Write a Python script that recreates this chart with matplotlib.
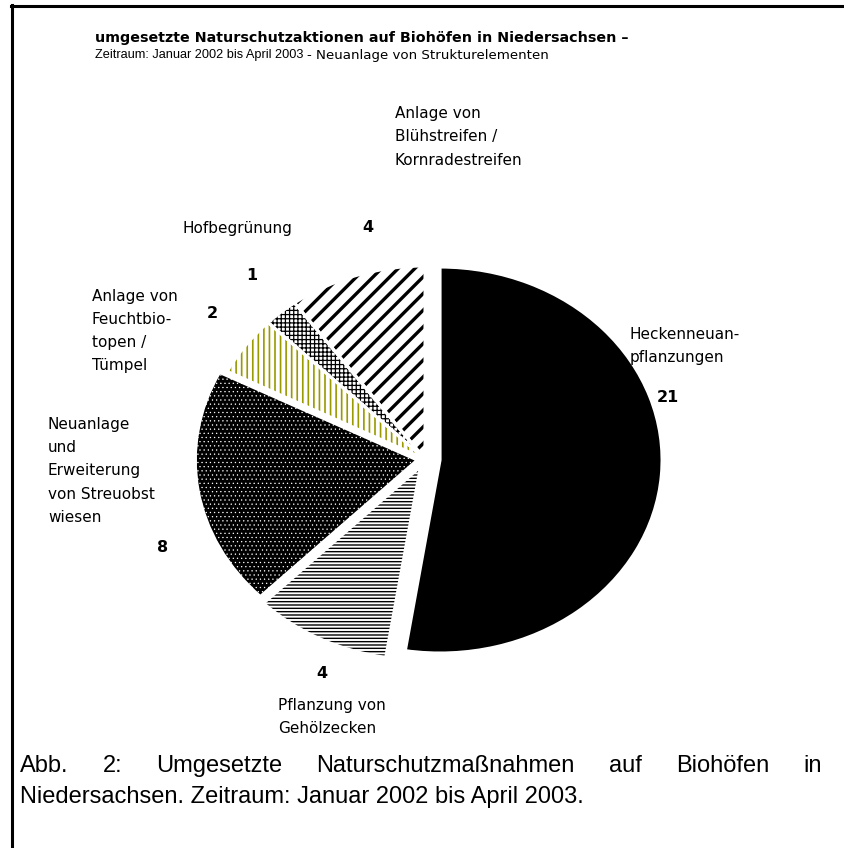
import matplotlib
matplotlib.use("Agg")
import matplotlib.pyplot as plt
from matplotlib.lines import Line2D

# Daten
kategorien = ["Heckenneuanpflanzungen", "Pflanzung von Gehölzecken",
              "Neuanlage und Erweiterung von Streuobstwiesen",
              "Anlage von Feuchtbiotopen / Tümpel", "Hofbegrünung",
              "Anlage von Blühstreifen / Kornradestreifen"]
werte = [21, 4, 8, 2, 1, 4]

# Stil je Segment
flaeche = ["black", "white", "black", "white", "white", "white"]
schraffur = [None, "-----", "....", "|||", "++++", "//"]
schraffur_farbe = ["black", "black", "white", "#999900", "black", "black"]
schraffur_breite = [1.0, 1.0, 0.4, 1.2, 0.9, 2.4]
explode = [0.068, 0.045, 0.035, 0, 0, 0]

W, H = 845, 848
fig = plt.figure(figsize=(W / 100, H / 100), dpi=100)

# Torte: Mitte bei (425, 459) px, Radien 222 x 193 px (leicht elliptisch)
cx, cy, rx, ry = 425, 459, 222, 193
ax = fig.add_axes([(cx - 1.5 * rx) / W, (H - cy - 1.5 * ry) / H, 3 * rx / W, 3 * ry / H])
wedges, _ = ax.pie(werte, startangle=90, counterclock=False, explode=explode,
                   wedgeprops=dict(linewidth=0))
for w, fc, h, hc, hl in zip(wedges, flaeche, schraffur, schraffur_farbe, schraffur_breite):
    w.set_facecolor(fc)
    w.set_edgecolor(hc)
    w.set_linewidth(0)
    if h:
        w.set_hatch(h)
        if hasattr(w, "set_hatch_linewidth"):
            w.set_hatch_linewidth(hl)
# weiße Trennlinien
ax.pie(werte, startangle=90, counterclock=False, explode=explode,
       wedgeprops=dict(fill=False, edgecolor="white", linewidth=2.2))
ax.set_aspect("auto")
ax.set_xlim(-1.5, 1.5)
ax.set_ylim(-1.5, 1.5)
ax.axis("off")


def px(x, y):
    return x / W, 1 - y / H


# Beschriftungen
lab = dict(fontsize=11, family="DejaVu Sans", linespacing=1.67)
num = dict(fontsize=11.5, family="DejaVu Sans", fontweight="bold", ha="center", va="center")
fig.text(*px(395, 137), "Anlage von\nBlühstreifen /\nKornradestreifen", va="center", **lab)
fig.text(*px(368, 228), str(werte[5]), **num)
fig.text(*px(183, 228), kategorien[4], va="center", **lab)
fig.text(*px(252, 275), str(werte[4]), **num)
fig.text(*px(92, 331), "Anlage von\nFeuchtbio-\ntopen /\nTümpel", va="center", **lab)
fig.text(*px(212, 313), str(werte[3]), **num)
fig.text(*px(630, 346), "Heckenneuan-\npflanzungen", va="center", **lab)
fig.text(*px(668, 397), str(werte[0]), **num)
fig.text(*px(48, 471), "Neuanlage\nund\nErweiterung\nvon Streuobst\nwiesen", va="center", **lab)
fig.text(*px(163, 548), str(werte[2]), **num)
fig.text(*px(322, 673), str(werte[1]), **num)
fig.text(*px(278, 717), "Pflanzung von\nGehölzecken", va="center", **lab)

# Titel
fig.text(*px(95, 38), "umgesetzte Naturschutzaktionen auf Biohöfen in Niedersachsen –",
         fontsize=10.3, fontweight="bold", family="DejaVu Sans", va="center")
t1 = fig.text(*px(95, 55), "Zeitraum: Januar 2002 bis April 2003",
              fontsize=9.2, family="Liberation Sans", va="center")
fig.canvas.draw()
r = fig.canvas.get_renderer()
x_end = t1.get_window_extent(r).x1
fig.text(x_end / W + 4 / W, 1 - 55 / H, "- Neuanlage von Strukturelementen",
         fontsize=9.6, family="DejaVu Sans", va="center")

# Bildunterschrift (Blocksatz in Zeile 1)
cap = dict(fontsize=17, family="Liberation Sans", va="center")
zeile1 = "Abb. 2: Umgesetzte Naturschutzmaßnahmen auf Biohöfen in".split()
links, rechts = 20, 822
objs = [fig.text(0, 1 - 766 / H, w, **cap) for w in zeile1]
fig.canvas.draw()
breiten = [o.get_window_extent(r).width for o in objs]
luecke = (rechts - links - sum(breiten)) / (len(objs) - 1)
x = links
for o, b in zip(objs, breiten):
    o.set_x(x / W)
    x += b + luecke
fig.text(*px(links, 797), "Niedersachsen. Zeitraum: Januar 2002 bis April 2003.", **cap)

# Rahmen oben und links
fig.add_artist(Line2D([11 / W, 1], [1 - 6 / H, 1 - 6 / H], color="black", lw=2.2,
                      transform=fig.transFigure))
fig.add_artist(Line2D([12.5 / W, 12.5 / W], [0, 1 - 5 / H], color="black", lw=2.2,
                      transform=fig.transFigure))

fig.savefig("out.png", dpi=100)
